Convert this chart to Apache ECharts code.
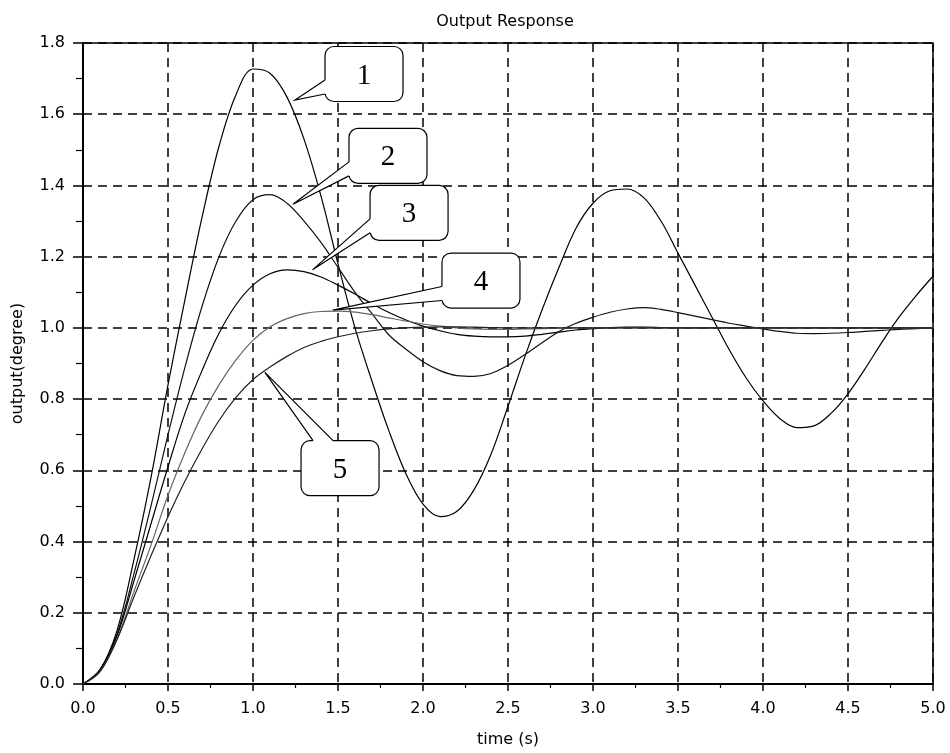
<!DOCTYPE html>
<html>
<head>
<meta charset="utf-8">
<script src="https://cdn.jsdelivr.net/npm/echarts@6/dist/echarts.min.js"></script>
<style>html,body{margin:0;padding:0;background:#fff}#chart{width:950px;height:753px}</style>
</head>
<body>
<div id="chart"></div>
<script>
var timeValues = [0.0,0.1,0.2,0.3,0.4,0.5,0.6,0.7,0.8,0.9,1.0,1.1,1.2,1.3,1.4,1.5,1.6,1.7,1.8,1.9,2.0,2.1,2.2,2.3,2.4,2.5,2.6,2.7,2.8,2.9,3.0,3.1,3.2,3.3,3.4,3.5,3.6,3.7,3.8,3.9,4.0,4.1,4.2,4.3,4.4,4.5,4.6,4.7,4.8,4.9,5.0];

var curve1 = [0, 0.04, 0.15, 0.35, 0.58, 0.84, 1.08, 1.31, 1.51, 1.655, 1.727, 1.715, 1.648, 1.53, 1.37, 1.18, 1.00, 0.85, 0.71, 0.59, 0.505, 0.47, 0.485, 0.545, 0.645, 0.78, 0.92, 1.05, 1.17, 1.28, 1.35, 1.385, 1.39, 1.365, 1.30, 1.21, 1.12, 1.03, 0.94, 0.86, 0.795, 0.745, 0.72, 0.725, 0.76, 0.815, 0.885, 0.96, 1.03, 1.09, 1.145];
var curve2 = [0, 0.04, 0.14, 0.31, 0.50, 0.70, 0.89, 1.06, 1.20, 1.30, 1.36, 1.374, 1.35, 1.30, 1.24, 1.17, 1.10, 1.04, 0.98, 0.94, 0.905, 0.88, 0.866, 0.864, 0.872, 0.895, 0.925, 0.958, 0.99, 1.013, 1.03, 1.044, 1.053, 1.057, 1.052, 1.043, 1.033, 1.023, 1.013, 1.005, 0.997, 0.99, 0.985, 0.984, 0.985, 0.987, 0.99, 0.993, 0.996, 0.998, 1.0];
var curve3 = [0, 0.04, 0.135, 0.29, 0.45, 0.61, 0.76, 0.88, 0.985, 1.065, 1.12, 1.152, 1.163, 1.158, 1.143, 1.12, 1.095, 1.068, 1.043, 1.022, 1.005, 0.992, 0.982, 0.977, 0.975, 0.975, 0.977, 0.982, 0.988, 0.994, 0.998, 1.001, 1.002, 1.002, 1.001, 1.0, 1.0, 1.0, 1.0, 1.0, 1.0, 1.0, 1.0, 1.0, 1.0, 1.0, 1.0, 1.0, 1.0, 1.0, 1.0];
var curve4 = [0, 0.035, 0.125, 0.26, 0.39, 0.53, 0.65, 0.755, 0.84, 0.91, 0.965, 1.003, 1.026, 1.04, 1.046, 1.047, 1.044, 1.037, 1.028, 1.019, 1.011, 1.005, 1.0, 0.997, 0.996, 0.996, 0.997, 0.998, 0.999, 1.0, 1.0, 1.0, 1.0, 1.0, 1.0, 1.0, 1.0, 1.0, 1.0, 1.0, 1.0, 1.0, 1.0, 1.0, 1.0, 1.0, 1.0, 1.0, 1.0, 1.0, 1.0];
var curve5 = [0, 0.035, 0.125, 0.245, 0.36, 0.47, 0.57, 0.66, 0.74, 0.805, 0.855, 0.89, 0.92, 0.945, 0.962, 0.975, 0.985, 0.992, 0.997, 1.0, 1.002, 1.003, 1.003, 1.002, 1.001, 1.0, 1.0, 1.0, 1.0, 1.0, 1.0, 1.0, 1.0, 1.0, 1.0, 1.0, 1.0, 1.0, 1.0, 1.0, 1.0, 1.0, 1.0, 1.0, 1.0, 1.0, 1.0, 1.0, 1.0, 1.0, 1.0];

// callouts: label, box centre (time, output), pointer tip (time, output)
var calloutLabels = ['1', '2', '3', '4', '5'];
var calloutBoxT = [1.653, 1.794, 1.918, 2.341, 1.512];
var calloutBoxV = [1.713, 1.483, 1.323, 1.133, 0.606];
var calloutTipT = [1.247, 1.235, 1.35, 1.47, 1.07];
var calloutTipV = [1.64, 1.347, 1.163, 1.05, 0.875];
var calloutSide = ['left', 'left', 'left', 'left', 'top'];

var titleText = 'Output Response';
var xName = 'time (s)';
var yName = 'output(degree)';

function pairs(vals) {
  return timeValues.map(function (t, i) { return [t, vals[i]]; });
}

var curveColors = ['#000', '#111', '#000', '#666', '#222'];
var curves = [curve1, curve2, curve3, curve4, curve5];

var lineSeries = curves.map(function (c, i) {
  return {
    type: 'line', data: pairs(c), showSymbol: false, smooth: 0.35,
    lineStyle: { color: curveColors[i], width: 1.2 }, z: 3, silent: true
  };
});

var calloutData = calloutLabels.map(function (l, i) {
  return [calloutBoxT[i], calloutBoxV[i], calloutTipT[i], calloutTipV[i]];
});

var calloutSeries = {
  type: 'custom',
  data: calloutData,
  encode: { x: 0, y: 1 },
  clip: false,
  z: 10,
  silent: true,
  renderItem: function (params, api) {
    var idx = params.dataIndex;
    var c = api.coord([api.value(0), api.value(1)]);
    var tip = api.coord([api.value(2), api.value(3)]);
    var w = 78, h = 55;
    var x0 = c[0] - w / 2, y0 = c[1] - h / 2;
    var b1, b2, b1in, b2in;
    if (calloutSide[idx] === 'left') {
      b1 = [x0, c[1] + 6]; b2 = [x0, c[1] + 20];
      b1in = [x0 + 2, c[1] + 6]; b2in = [x0 + 2, c[1] + 20];
    } else {
      b1 = [c[0] - 27, y0]; b2 = [c[0] - 7, y0];
      b1in = [c[0] - 27, y0 + 2]; b2in = [c[0] - 7, y0 + 2];
    }
    return {
      type: 'group',
      children: [
        { type: 'rect', shape: { x: x0, y: y0, width: w, height: h, r: 9 },
          style: { fill: '#fff', stroke: '#000', lineWidth: 1.2 } },
        { type: 'polygon', shape: { points: [b1in, b1, tip, b2, b2in] },
          style: { fill: '#fff', stroke: null } },
        { type: 'polyline', shape: { points: [b1, tip, b2] },
          style: { fill: null, stroke: '#000', lineWidth: 1.2 } },
        { type: 'text', style: { text: calloutLabels[idx], x: c[0], y: c[1] + 2,
          align: 'center', verticalAlign: 'middle',
          font: '29px "Liberation Serif", serif', fill: '#000' } }
      ]
    };
  }
};

var chart = echarts.init(document.getElementById('chart'), null, { renderer: 'canvas' });
chart.setOption({
  animation: false,
  backgroundColor: '#fff',
  title: {
    text: titleText, left: 500, top: 9, textAlign: 'center',
    textStyle: { fontFamily: 'DejaVu Sans', fontSize: 16, fontWeight: 'normal', color: '#000' }
  },
  grid: { left: 83, right: 17, top: 43, bottom: 68, show: true, borderColor: '#000', borderWidth: 1.5, backgroundColor: 'transparent' },
  xAxis: {
    type: 'value', min: 0, max: 5, interval: 0.5,
    name: xName, nameLocation: 'middle', nameGap: 48,
    nameTextStyle: { fontFamily: 'DejaVu Sans', fontSize: 16, color: '#000' },
    axisLine: { show: true, lineStyle: { color: '#000', width: 2 } },
    axisTick: { show: true, length: 7, lineStyle: { color: '#000', width: 1.5 } },
    minorTick: { show: true, splitNumber: 2, length: 4, lineStyle: { color: '#000', width: 1.2 } },
    axisLabel: { color: '#000', fontFamily: 'DejaVu Sans', fontSize: 16, margin: 17,
      formatter: function (v) { return v.toFixed(1); } },
    splitLine: { show: true, lineStyle: { color: '#000', width: 1.5, type: [9, 6] } }
  },
  yAxis: {
    type: 'value', min: 0, max: 1.8, interval: 0.2,
    name: yName, nameLocation: 'middle', nameGap: 57,
    nameTextStyle: { fontFamily: 'DejaVu Sans', fontSize: 16, color: '#000' },
    axisLine: { show: true, lineStyle: { color: '#000', width: 2 } },
    axisTick: { show: true, length: 10, lineStyle: { color: '#000', width: 1.5 } },
    minorTick: { show: true, splitNumber: 2, length: 7, lineStyle: { color: '#000', width: 1.2 } },
    axisLabel: { color: '#000', fontFamily: 'DejaVu Sans', fontSize: 16, margin: 18,
      formatter: function (v) { return v.toFixed(1); } },
    splitLine: { show: true, lineStyle: { color: '#000', width: 1.5, type: [9, 6] } }
  },
  series: lineSeries.concat([calloutSeries])
});
</script>
</body>
</html>
